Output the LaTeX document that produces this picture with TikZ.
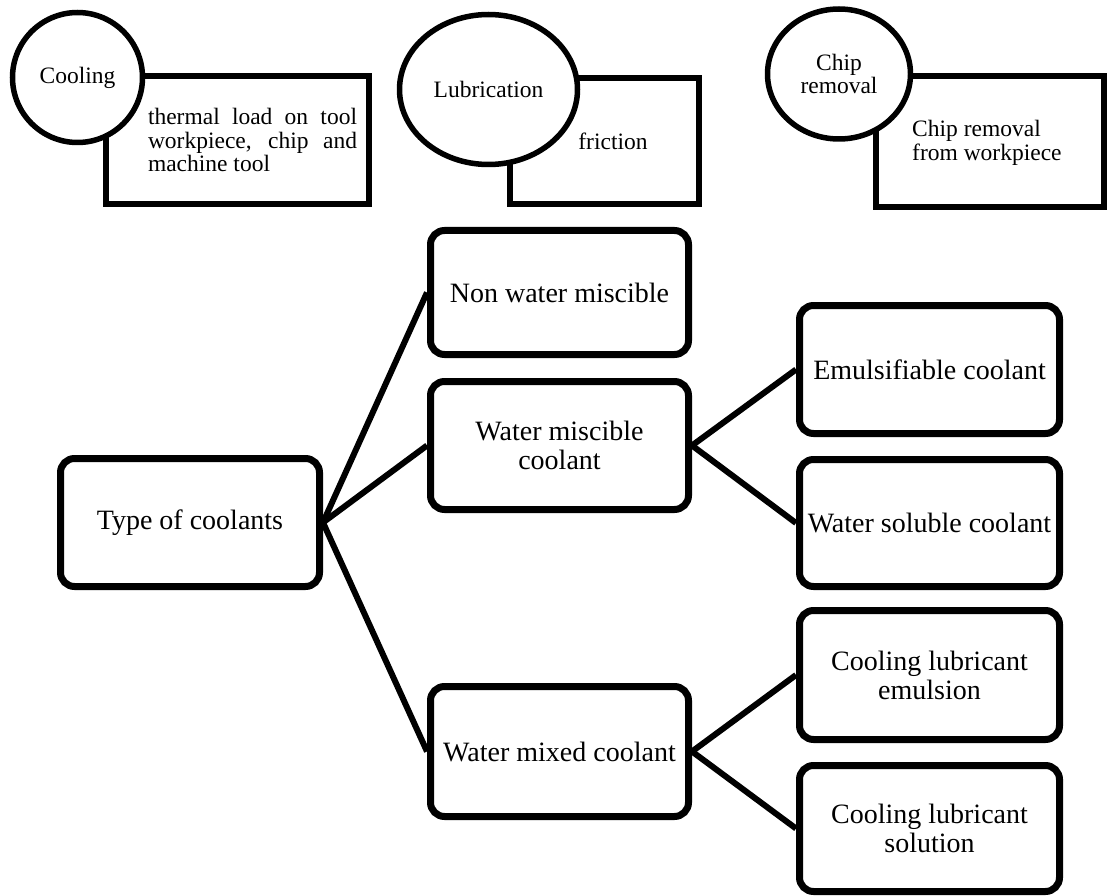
\documentclass[tikz,border=0pt]{standalone}
\usepackage{fontspec}
\setmainfont{Liberation Serif}
\usetikzlibrary{shapes.geometric}
\begin{document}
\begin{tikzpicture}[x=1pt,y=-1pt,
  catbox/.style={draw, line width=7pt, rounded corners=14pt, inner sep=0pt,
    align=center, font=\fontsize{28}{29}\selectfont},
  notebox/.style={draw, line width=5.5pt, inner sep=0pt},
  rolecirc/.style={draw, line width=5.5pt, fill=white, inner sep=0pt,
    align=center, font=\fontsize{23.5}{23.5}\selectfont},
  notetext/.style={inner sep=0pt, font=\fontsize{23.5}{23.5}\selectfont},
  link/.style={line width=6pt}]
\useasboundingbox (0,0) rectangle (1109,896);

% --- functions of a coolant (top row) ---
\node[notebox, minimum width=263, minimum height=128] (coolRect) at (237.5,140) {};
\node[notebox, minimum width=189, minimum height=126] (lubRect) at (604.5,141) {};
\node[notebox, minimum width=228, minimum height=131] (chipRect) at (990,141.5) {};

\node[notetext, align=left] (coolTxt) at (252.5,140)
  {\makebox[209pt][s]{thermal load on tool}\\
   \makebox[209pt][s]{workpiece, chip and}\\
   machine tool};
\node[notetext] (lubTxt) at (613,141) {friction};
\node[notetext, align=left, anchor=west] (chipTxt) at (912,143)
  {Chip removal\\from workpiece};

\node[rolecirc, circle, minimum size=130] (cooling) at (77.5,77.5) {Cooling};
\node[rolecirc, ellipse, minimum width=178, minimum height=150] (lubrication) at (488.5,89.5) {Lubrication};
\node[rolecirc, ellipse, minimum width=143, minimum height=130] (chip) at (839,74) {Chip\\removal};

% --- classification of coolants ---
\node[catbox, minimum width=259, minimum height=128] (types) at (190,522.5) {Type of coolants};

\node[catbox, minimum width=258, minimum height=124] (nonwater) at (559.5,292.5) {Non water miscible};
\node[catbox, minimum width=258, minimum height=128] (miscible) at (559.5,445.5) {Water miscible\\coolant};
\node[catbox, minimum width=258, minimum height=130] (mixed) at (559.5,751.5) {Water mixed coolant};

\node[catbox, minimum width=260, minimum height=128] (emulsifiable) at (929.5,369.5) {Emulsifiable coolant};
\node[catbox, minimum width=260, minimum height=127] (soluble) at (929.5,523) {Water soluble coolant};
\node[catbox, minimum width=260, minimum height=129] (clemulsion) at (929.5,675) {Cooling lubricant\\emulsion};
\node[catbox, minimum width=260, minimum height=126] (clsolution) at (929.5,828.5) {Cooling lubricant\\solution};

\draw[link] (types.east) -- (nonwater.west);
\draw[link] (types.east) -- (miscible.west);
\draw[link] (types.east) -- (mixed.west);
\draw[link] (miscible.east) -- (emulsifiable.west);
\draw[link] (miscible.east) -- (soluble.west);
\draw[link] (mixed.east) -- (clemulsion.west);
\draw[link] (mixed.east) -- (clsolution.west);
\end{tikzpicture}
\end{document}
